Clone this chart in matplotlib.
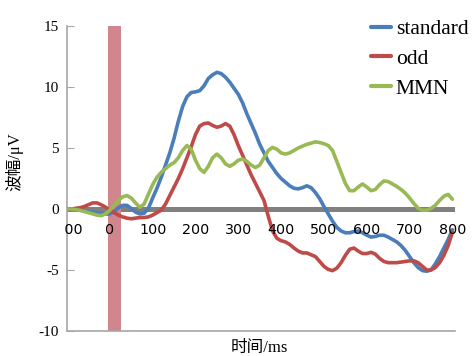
import matplotlib
matplotlib.use("Agg")
import matplotlib.pyplot as plt
from matplotlib.transforms import Bbox

# ---- data (every 10 ms) ----
time_ms = list(range(-100, 801, 10))
standard = [0.0, 0.0, -0.05, -0.1, -0.15, -0.2, -0.25, -0.3, -0.35, -0.42,
            -0.4, -0.2, 0.1, 0.3, 0.3, 0.05, -0.25, -0.4, -0.35, 0.05,
            0.9, 1.7, 2.6, 3.6, 4.6, 5.8, 7.2, 8.4, 9.2, 9.55,
            9.6, 9.7, 10.1, 10.7, 11.0, 11.2, 11.1, 10.8, 10.4, 9.9,
            9.4, 8.7, 7.8, 7.0, 6.2, 5.3, 4.6, 3.9, 3.4, 2.9,
            2.5, 2.2, 1.9, 1.7, 1.65, 1.75, 1.9, 1.75, 1.35, 0.85,
            0.2, -0.4, -1.0, -1.5, -1.8, -1.95, -1.95, -1.85, -1.8, -1.95,
            -2.15, -2.3, -2.25, -2.15, -2.15, -2.3, -2.5, -2.7, -3.0, -3.4,
            -3.9, -4.4, -4.8, -5.05, -5.1, -5.0, -4.5, -3.9, -3.2, -2.5,
            -1.7]
odd = [0.0, 0.0, 0.05, 0.1, 0.2, 0.35, 0.5, 0.5, 0.35, 0.15,
       -0.1, -0.3, -0.5, -0.65, -0.75, -0.8, -0.75, -0.7, -0.7, -0.65,
       -0.5, -0.3, -0.1, 0.4, 1.1, 1.8, 2.5, 3.3, 4.2, 5.1,
       6.1, 6.8, 7.0, 7.05, 6.85, 6.7, 6.8, 7.0, 6.8, 6.1,
       5.2, 4.4, 3.6, 2.8, 2.1, 1.4, 0.7, -0.6, -1.8, -2.4,
       -2.6, -2.7, -2.9, -3.2, -3.45, -3.6, -3.6, -3.75, -3.9, -4.3,
       -4.7, -4.95, -5.05, -4.85, -4.4, -3.8, -3.3, -3.2, -3.45, -3.65,
       -3.65, -3.55, -3.7, -4.05, -4.3, -4.4, -4.4, -4.4, -4.35, -4.3,
       -4.25, -4.25, -4.4, -4.7, -5.0, -5.0, -4.8, -4.4, -3.8, -3.0,
       -1.9]
mmn = [0.0, 0.0, -0.05, -0.1, -0.2, -0.3, -0.4, -0.5, -0.55, -0.4,
       -0.1, 0.3, 0.7, 1.0, 1.1, 0.9, 0.5, 0.15, 0.4, 1.2,
       2.0, 2.6, 3.0, 3.3, 3.6, 3.8, 4.2, 4.8, 5.2, 4.9,
       4.0, 3.3, 3.0, 3.5, 4.2, 4.5, 4.2, 3.7, 3.5, 3.7,
       4.0, 4.1, 3.9, 3.6, 3.4, 3.6, 4.2, 4.8, 5.05, 4.9,
       4.6, 4.5, 4.6, 4.8, 5.0, 5.15, 5.3, 5.4, 5.5, 5.45,
       5.35, 5.2, 4.8, 3.9, 3.0, 2.1, 1.5, 1.5, 1.8, 2.05,
       1.8, 1.5, 1.6, 2.0, 2.3, 2.25, 2.05, 1.85, 1.6, 1.3,
       0.9, 0.45, 0.05, -0.1, -0.1, 0.05, 0.3, 0.7, 1.05, 1.2,
       0.8]
series_names = ["standard", "odd", "MMN"]
series_colors = ["#4a7ebb", "#be4b48", "#98b954"]
x_ticks = [-100, 0, 100, 200, 300, 400, 500, 600, 700, 800]
y_ticks = [15, 10, 5, 0, -5, -10]
stim_span = (-5, 25)

fig = plt.figure(figsize=(4.73, 3.56), dpi=100)
ax = fig.add_axes([67/473, 1-331/356, (455-67)/473, (331-26)/356])
ax.set_xlim(-100, 806)
ax.set_ylim(-10, 15)

ax.axhline(0, color="#808080", lw=3.6, zorder=1, solid_capstyle="butt")
ax.axvspan(stim_span[0], stim_span[1], color="#d0868c", zorder=2, lw=0)

for vals, name, col in zip([standard, odd, mmn], series_names, series_colors):
    ax.plot(time_ms, vals, color=col, lw=2.6, label=name, zorder=3,
            solid_joinstyle="round", solid_capstyle="round")

for s in ["top", "right"]:
    ax.spines[s].set_visible(False)
for s in ["left", "bottom"]:
    ax.spines[s].set_color("#a6a6a6")
    ax.spines[s].set_linewidth(1.2)

ax.set_yticks(y_ticks)
ax.set_yticklabels([str(v) for v in y_ticks], family="Liberation Serif", fontsize=11)
ax.tick_params(axis="y", direction="in", length=5, color="#a6a6a6", pad=6)
ax.set_xticks([])

clip = Bbox.from_extents(64, 0, 473, 356)
for t in x_ticks:
    txt = ax.text(t, -1.7, str(t), ha="center", va="center", fontsize=10.3,
                  family="DejaVu Sans", color="#000000", zorder=4)
    txt.set_clip_box(clip)
    txt.set_clip_on(True)

fig.text(259/473, 1-348/356, "时间/ms", ha="center", va="center", fontsize=12,
         family=["Liberation Serif", "Noto Sans CJK SC"])
fig.text(14/473, 1-162/356, "波幅/μV", ha="center", va="center", fontsize=12,
         rotation=90, family=["Liberation Serif", "Noto Sans CJK SC"])

leg = ax.legend(loc="upper left", bbox_to_anchor=(371/473, 1-19/356),
                bbox_transform=fig.transFigure, frameon=False,
                prop={"family": "Liberation Serif", "size": 15.5},
                handlelength=0.95, handletextpad=0.2, labelspacing=0.45,
                borderpad=0, borderaxespad=0)
for h in leg.get_lines():
    h.set_linewidth(3)

fig.savefig("out.png", dpi=100)
